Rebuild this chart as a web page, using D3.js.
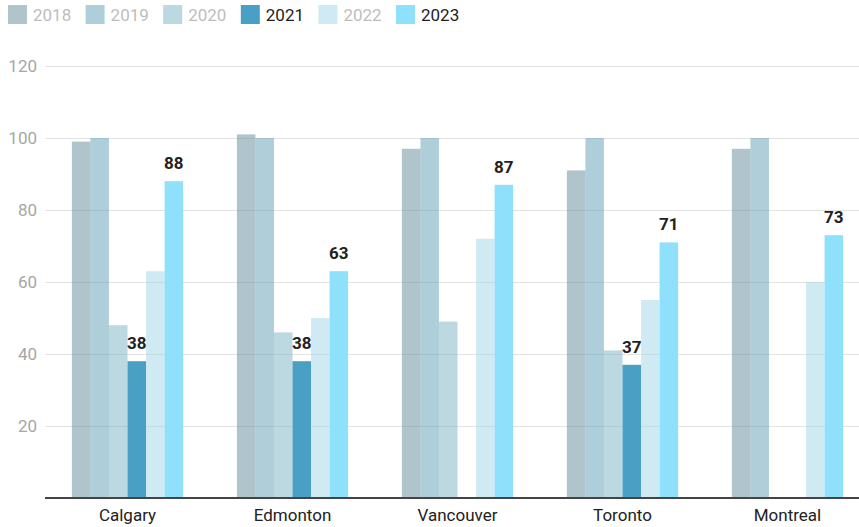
<!DOCTYPE html>
<html>
<head>
<meta charset="utf-8">
<script src="https://cdn.jsdelivr.net/npm/d3@7"></script>
<style>
  html, body { margin: 0; padding: 0; background: #fff; }
  svg { display: block; font-family: Roboto, "Noto Sans", sans-serif; }
</style>
</head>
<body>
<svg id="chart" width="859" height="527"></svg>
<script>
// Cities along the x axis
const cities = ["Calgary", "Edmonton", "Vancouver", "Toronto", "Montreal"];
// Years shown as grouped bars
const years = ["2018", "2019", "2020", "2021", "2022", "2023"];
// Values per year, one entry per city (null = no bar)
const v2018 = [99, 101, 97, 91, 97];
const v2019 = [100, 100, 100, 100, 100];
const v2020 = [48, 46, 49, 41, null];
const v2021 = [38, 38, null, 37, null];
const v2022 = [63, 50, 72, 55, 60];
const v2023 = [88, 63, 87, 71, 73];
// Y tick values
const yTicks = [20, 40, 60, 80, 100, 120];
// Highlighted years carry value labels; others are muted
const highlighted = ["2021", "2023"];

const seriesValues = [v2018, v2019, v2020, v2021, v2022, v2023];
const colors = ["#618999", "#5d9fb5", "#79b3c5", "#4aa0c4", "#a1d5e9", "#8fe0fa"];

const svg = d3.select("#chart");
const W = 859, H = 527;

const x0 = d3.scaleBand().domain(cities).range([45, 870]).paddingInner(0).paddingOuter(0);
const x1 = d3.scaleBand().domain(years).range([0, x0.bandwidth()]).paddingOuter(1.45);
const y = d3.scaleLinear().domain([0, 120]).range([498, 66]);

// Grid lines
const grid = svg.append("g");
grid.selectAll("line").data(yTicks).join("line")
  .attr("x1", 45).attr("x2", W)
  .attr("y1", d => Math.round(y(d)) + 0.5).attr("y2", d => Math.round(y(d)) + 0.5)
  .attr("stroke", "#e3e3e3").attr("stroke-width", 1);

// Y tick labels
svg.append("g").selectAll("text").data(yTicks).join("text")
  .attr("x", 37).attr("y", d => y(d)).attr("dy", "0.35em")
  .attr("text-anchor", "end")
  .attr("font-size", 17).attr("fill", "#a6a6a6")
  .text(d => d);

// Bars
const groups = svg.append("g").selectAll("g").data(cities).join("g")
  .attr("transform", c => `translate(${x0(c)},0)`);

groups.each(function(city, ci) {
  const g = d3.select(this);
  years.forEach((yr, si) => {
    const val = seriesValues[si][ci];
    if (val == null) return;
    const on = highlighted.includes(yr);
    g.append("rect")
      .attr("x", x1(yr))
      .attr("width", x1.bandwidth())
      .attr("y", y(val))
      .attr("height", y(0) - y(val))
      .attr("fill", colors[si])
      .attr("fill-opacity", on ? 1 : 0.5);
    if (on) {
      g.append("text")
        .attr("x", x1(yr) + x1.bandwidth() / 2)
        .attr("y", y(val) - 12)
        .attr("text-anchor", "middle")
        .attr("font-size", 17).attr("font-weight", "bold")
        .attr("fill", "#222")
        .text(val);
    }
  });
});

// X axis baseline
svg.append("line")
  .attr("x1", 45).attr("x2", W)
  .attr("y1", 498).attr("y2", 498)
  .attr("stroke", "#444").attr("stroke-width", 2);

// City labels
svg.append("g").selectAll("text").data(cities).join("text")
  .attr("x", c => x0(c) + x0.bandwidth() / 2)
  .attr("y", 521)
  .attr("text-anchor", "middle")
  .attr("font-size", 17).attr("fill", "#222")
  .text(c => c);

// Legend
const legend = svg.append("g").selectAll("g").data(years).join("g")
  .attr("transform", (d, i) => `translate(${8 + i * 77.6},5)`);
legend.append("rect")
  .attr("width", 19).attr("height", 19)
  .attr("fill", (d, i) => colors[i])
  .attr("fill-opacity", d => highlighted.includes(d) ? 1 : 0.5);
legend.append("text")
  .attr("x", 25).attr("y", 10).attr("dy", "0.35em")
  .attr("font-size", 17)
  .attr("fill", d => highlighted.includes(d) ? "#222" : "#bdbdbd")
  .text(d => d);
</script>
</body>
</html>
